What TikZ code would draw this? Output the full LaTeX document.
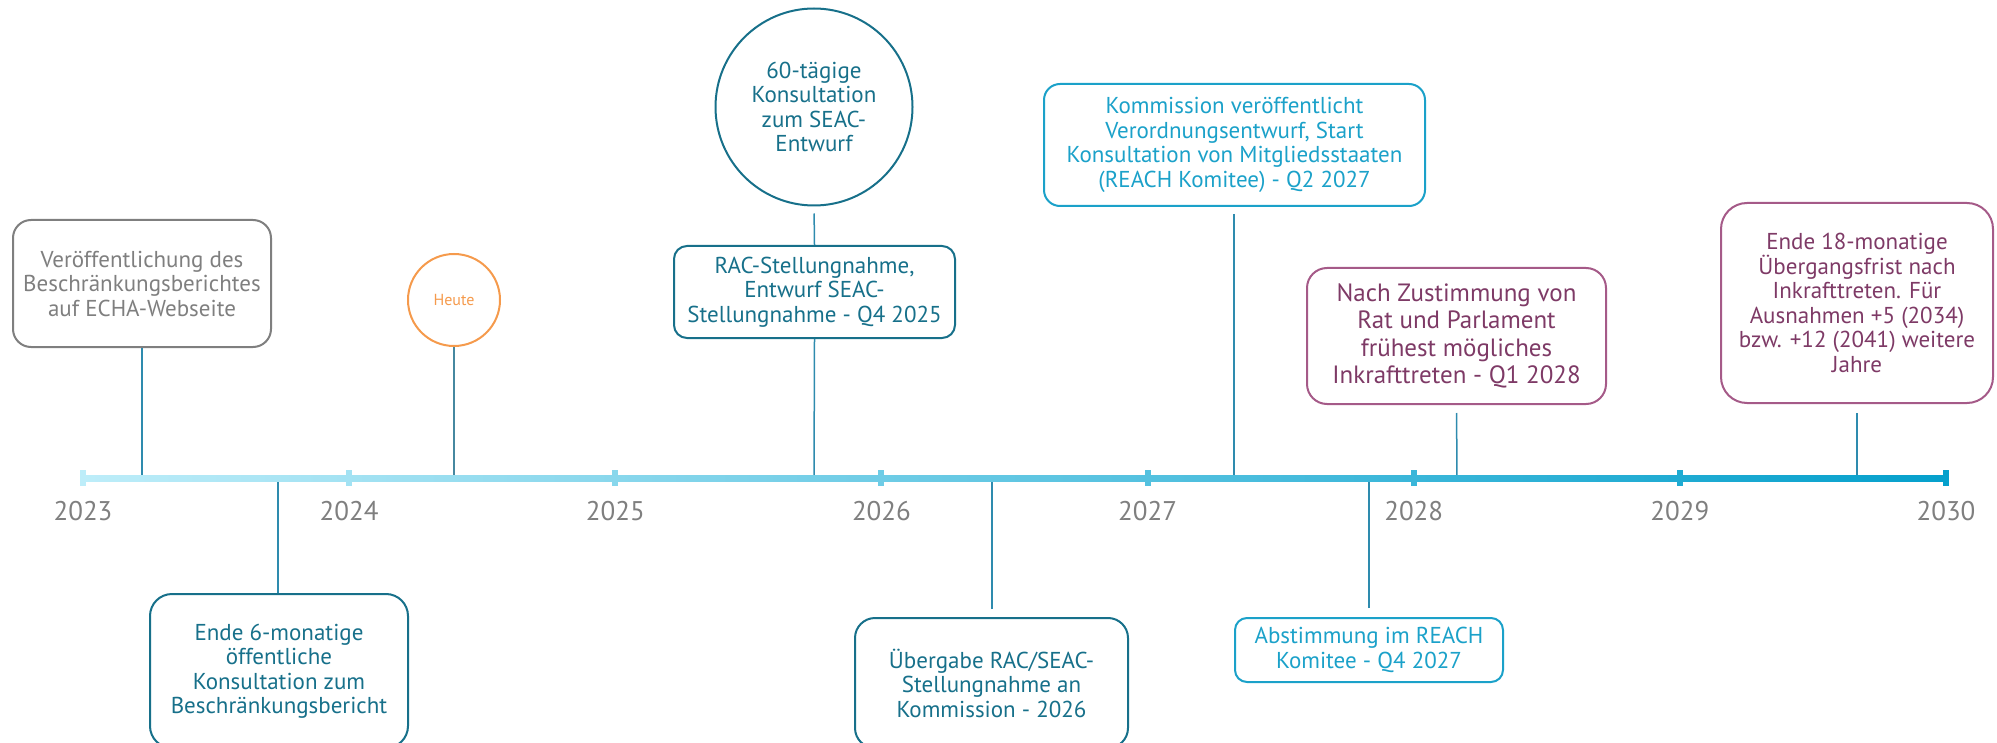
\documentclass[tikz,border=0pt]{standalone}
\usepackage{fontspec}
\setmainfont{PT Sans}
\definecolor{teal1}{HTML}{17708A}
\definecolor{cyan1}{HTML}{1BA1C9}
\definecolor{plumtext}{HTML}{7E3A66}
\definecolor{plumline}{HTML}{A55A88}
\definecolor{grayt}{HTML}{7F7F7F}
\definecolor{orng}{HTML}{F59A4C}
\definecolor{conn}{HTML}{2E8BAE}
\definecolor{tlA}{HTML}{BDEDF9}
\definecolor{tlB}{HTML}{05A0CC}
\begin{document}
\begin{tikzpicture}[x=1pt,y=-1pt,
  evbox/.style={draw, line width=2pt, rounded corners=18pt, align=center, inner sep=0pt,
    font=\fontsize{23}{24.5}\selectfont},
  evcircle/.style={draw, line width=2pt, circle, align=center, inner sep=0pt,
    font=\fontsize{23}{24.5}\selectfont},
  link/.style={draw=conn, line width=1.5pt},
  yearlbl/.style={text=grayt, font=\fontsize{27}{27}\selectfont, inner sep=0pt}
]
\useasboundingbox (0,0) rectangle (1997,743);

% event nodes
\node[evbox, draw=grayt, text=grayt, minimum width=258pt, minimum height=127pt] (pub) at (142,283.5)
  {Veröffentlichung des\\Beschränkungsberichtes\\auf ECHA-Webseite};
\node[evbox, draw=teal1, text=teal1, rounded corners=22pt, minimum width=258pt, minimum height=154pt] (ende6) at (279,671)
  {Ende 6-monatige\\öffentliche\\Konsultation zum\\Beschränkungsbericht};
\node[draw=orng, line width=2pt, circle, text=orng, minimum size=92pt, inner sep=0pt,
  font=\fontsize{16}{16}\selectfont] (heute) at (454,300) {Heute};
\node[evcircle, draw=teal1, text=teal1, minimum size=197pt] (sixty) at (814,107)
  {60-tägige\\Konsultation\\zum SEAC-\\Entwurf};
\node[evbox, draw=teal1, text=teal1, rounded corners=13pt, minimum width=281pt, minimum height=92pt] (rac) at (814.5,292)
  {RAC-Stellungnahme,\\Entwurf SEAC-\\Stellungnahme - Q4 2025};
\node[evbox, draw=teal1, text=teal1, rounded corners=20pt, minimum width=273pt, minimum height=130pt] (ueber) at (991.5,683)
  {Übergabe RAC/SEAC-\\Stellungnahme an\\Kommission - 2026};
\node[evbox, draw=cyan1, text=cyan1, rounded corners=16pt, minimum width=381pt, minimum height=122pt] (komm) at (1234.5,145)
  {Kommission veröffentlicht\\Verordnungsentwurf, Start\\Konsultation von Mitgliedsstaaten\\(REACH Komitee) - Q2 2027};
\node[evbox, draw=cyan1, text=cyan1, rounded corners=12pt, minimum width=268pt, minimum height=64pt] (abst) at (1369,650)
  {Abstimmung im REACH\\Komitee - Q4 2027};
\node[evbox, draw=plumline, text=plumtext, rounded corners=20pt, minimum width=299pt, minimum height=136pt,
  font=\fontsize{25}{27.5}\selectfont] (nach) at (1456.5,336)
  {Nach Zustimmung von\\Rat und Parlament\\frühest mögliches\\Inkrafttreten - Q1 2028};
\node[evbox, draw=plumline, text=plumtext, rounded corners=26pt, minimum width=272pt, minimum height=200pt] (ende18) at (1857,303)
  {Ende 18-monatige\\Übergangsfrist nach\\Inkrafttreten. Für\\Ausnahmen +5 (2034)\\bzw. +12 (2041) weitere\\Jahre};

% connector end points on the timeline
\coordinate (cpub) at (142,478);
\coordinate (cende6) at (278,478);
\coordinate (cheute) at (454,478);
\coordinate (crac) at (814,478);
\coordinate (cueber) at (992,478);
\coordinate (ckomm) at (1234,478);
\coordinate (cabst) at (1369,478);
\coordinate (cnach) at (1457,478);
\coordinate (cende18) at (1857,478);

% connectors
\draw[link] (pub.south) -- (cpub);
\draw[link] (ende6.north -| cende6) -- (cende6);
\draw[link, draw=conn!70!gray] (heute.south) -- (cheute);
\draw[link, shorten <=7pt] (sixty.south) -- (rac.north);
\draw[link] (rac.south) -- (crac);
\draw[link, shorten <=8pt] (ueber.north -| cueber) -- (cueber);
\draw[link, shorten <=7pt] (komm.south -| ckomm) -- (ckomm);
\draw[link, shorten <=9pt] (abst.north) -- (cabst);
\draw[link, shorten <=8pt] (nach.south) -- (cnach);
\draw[link, shorten <=9pt] (ende18.south) -- (cende18);

% timeline
\shade[left color=tlA, right color=tlB] (83,475) rectangle (1946,481);
\foreach \k/\yr in {0/2023,1/2024,2/2025,3/2026,4/2027,5/2028,6/2029,7/2030}{
  \pgfmathsetmacro{\xx}{83+266.14*\k}
  \pgfmathsetmacro{\pp}{100*\k/7}
  \fill[tlB!\pp!tlA] (\xx-3,470) rectangle (\xx+3,486);
  \node[yearlbl] (y\yr) at (\xx,511) {\yr};
}
\end{tikzpicture}
\end{document}
